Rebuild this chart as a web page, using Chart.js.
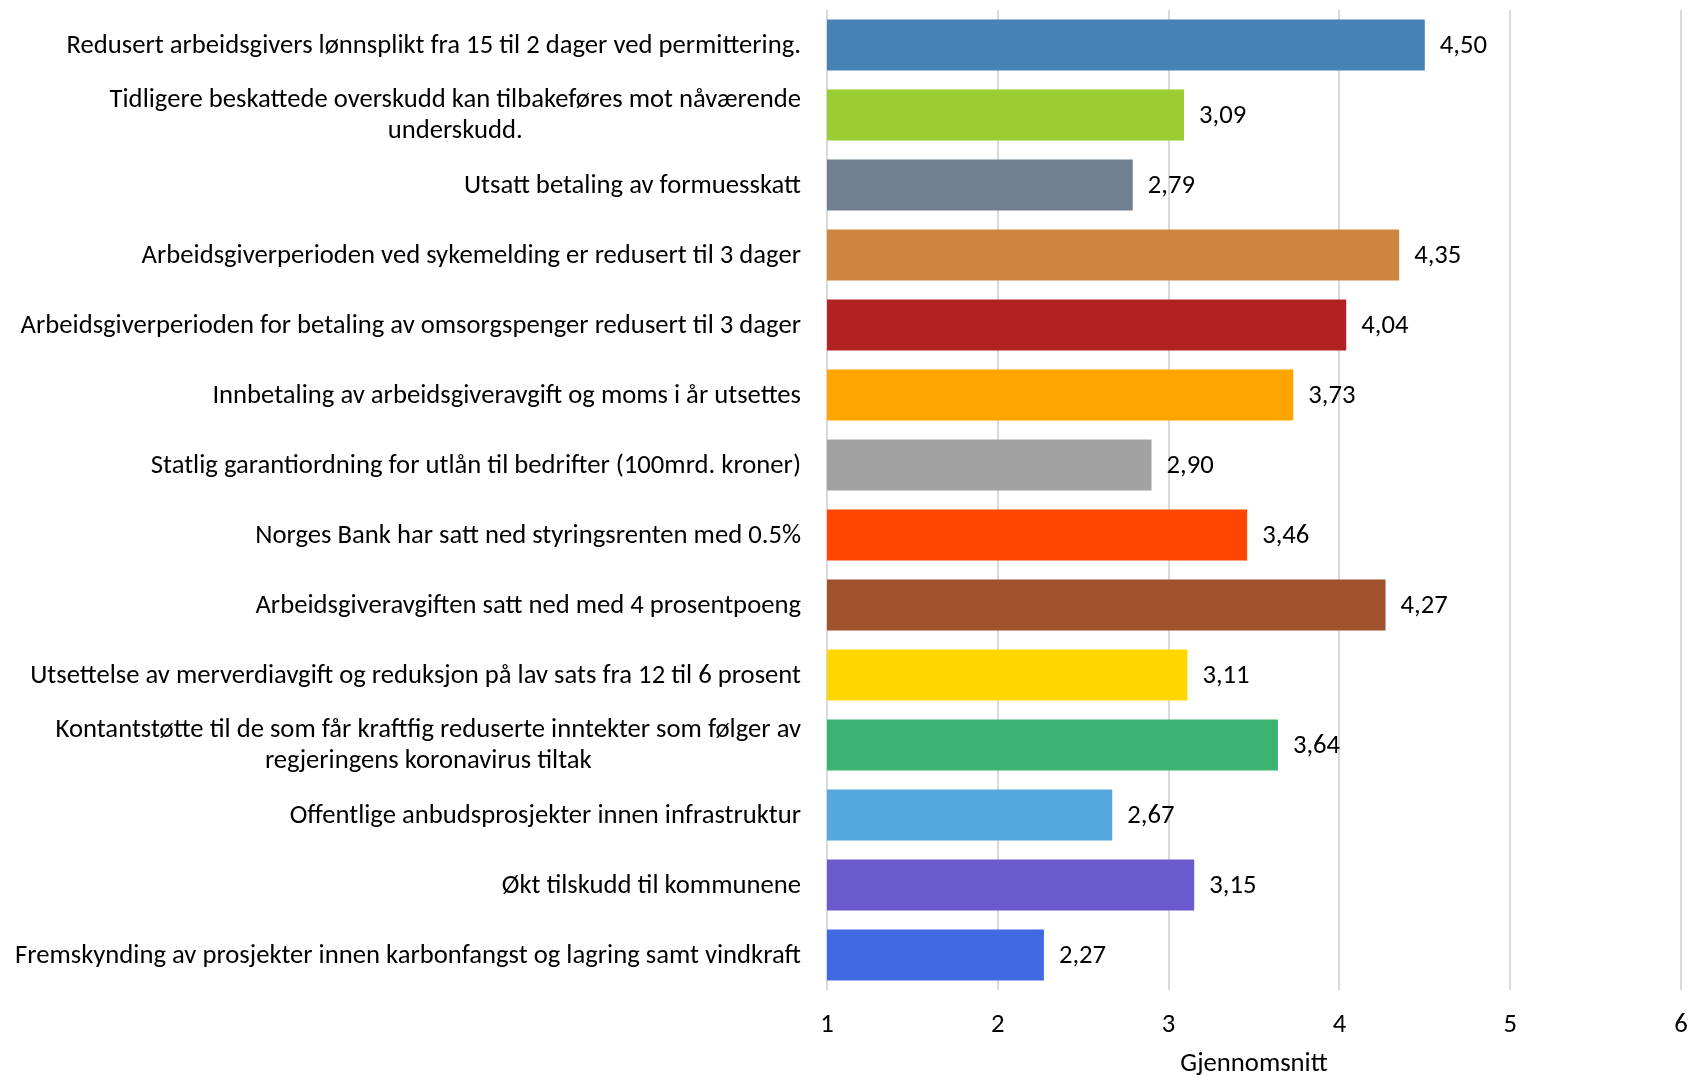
<!DOCTYPE html>
<html>
<head>
<meta charset="utf-8">
<script src="https://cdn.jsdelivr.net/npm/chart.js@4.4.1/dist/chart.umd.min.js"></script>
<style>
html,body{margin:0;padding:0;background:#fff;}
</style>
</head>
<body>
<canvas id="c" width="1690" height="1078"></canvas>
<script>
const categories = [
  "Redusert arbeidsgivers lønnsplikt fra 15 til 2 dager ved permittering.",
  ["Tidligere beskattede overskudd kan tilbakeføres mot nåværende", "underskudd."],
  "Utsatt betaling av formuesskatt",
  "Arbeidsgiverperioden ved sykemelding er redusert til 3 dager",
  "Arbeidsgiverperioden for betaling av omsorgspenger redusert til 3 dager",
  "Innbetaling av arbeidsgiveravgift og moms i år utsettes",
  "Statlig garantiordning for utlån til bedrifter (100mrd. kroner)",
  "Norges Bank har satt ned styringsrenten med 0.5%",
  "Arbeidsgiveravgiften satt ned med 4 prosentpoeng",
  "Utsettelse av merverdiavgift og reduksjon på lav sats fra 12 til 6 prosent",
  ["Kontantstøtte til de som får kraftfig reduserte inntekter som følger av", "regjeringens koronavirus tiltak"],
  "Offentlige anbudsprosjekter innen infrastruktur",
  "Økt tilskudd til kommunene",
  "Fremskynding av prosjekter innen karbonfangst og lagring samt vindkraft"
];
const values = [4.50, 3.09, 2.79, 4.35, 4.04, 3.73, 2.90, 3.46, 4.27, 3.11, 3.64, 2.67, 3.15, 2.27];
const barColors = ["#4682B4","#9ACD32","#708090","#CD853F","#B22222","#FFA500","#A2A2A2","#FF4500","#A0522D","#FFD700","#3CB371","#55A8DD","#6A5ACD","#4169E1"];
const xTicks = [1,2,3,4,5,6];
const axisTitle = "Gjennomsnitt";

const FONT = "Carlito, 'Open Sans', sans-serif";
const LABEL_SIZE = 26.67;
const LINE_H = 31;

// Category labels: right-aligned block, lines centred within the block (like the original)
const categoryLabels = {
  id: 'categoryLabels',
  afterDraw(chart) {
    const ctx = chart.ctx;
    const ys = chart.scales.y;
    const right = chart.chartArea.left - 26;
    ctx.save();
    ctx.font = LABEL_SIZE + "px " + FONT;
    ctx.fillStyle = "#000";
    ctx.textAlign = "center";
    ctx.textBaseline = "middle";
    categories.forEach((lab, i) => {
      const lines = Array.isArray(lab) ? lab : [lab];
      const w = Math.max(...lines.map(l => ctx.measureText(l).width));
      const cx = right - w / 2;
      const cy = ys.getPixelForTick(i);
      const y0 = cy - (lines.length - 1) * LINE_H / 2 + 1;
      lines.forEach((l, k) => ctx.fillText(l, cx, y0 + k * LINE_H));
    });
    ctx.restore();
  }
};

const valueLabels = {
  id: 'valueLabels',
  afterDatasetsDraw(chart) {
    const ctx = chart.ctx;
    const meta = chart.getDatasetMeta(0);
    ctx.save();
    ctx.font = LABEL_SIZE + "px " + FONT;
    ctx.fillStyle = "#000";
    ctx.textAlign = "left";
    ctx.textBaseline = "middle";
    meta.data.forEach((bar, i) => {
      ctx.fillText(values[i].toFixed(2).replace('.', ','), bar.x + 15, bar.y + 1);
    });
    ctx.restore();
  }
};

new Chart(document.getElementById('c'), {
  type: 'bar',
  data: {
    labels: categories,
    datasets: [{ data: values, backgroundColor: barColors, borderWidth: 0, categoryPercentage: 1, barPercentage: 0.73 }]
  },
  options: {
    indexAxis: 'y',
    responsive: false,
    animation: false,
    layout: { padding: { top: 10, right: 9, left: 0, bottom: 0 } },
    plugins: { legend: { display: false }, tooltip: { enabled: false } },
    scales: {
      x: {
        min: 1, max: 6,
        afterBuildTicks(s) { s.ticks = xTicks.map(v => ({ value: v })); },
        grid: { color: '#d9d9d9', lineWidth: 2, drawTicks: false },
        border: { display: false },
        ticks: { font: { family: FONT, size: 26.67, lineHeight: 1.2 }, color: '#000', padding: 19, maxRotation: 0 },
        title: { display: true, text: axisTitle, font: { family: FONT, size: 26.67, lineHeight: 1 }, color: '#000', padding: { top: 10, bottom: 0 } },
        afterFit(s) { s.height = 88; s.paddingLeft = 0; s.paddingRight = 0; }
      },
      y: {
        grid: { display: false, drawTicks: false },
        border: { display: false },
        ticks: { display: false },
        afterFit(s) { s.width = 827; s.paddingTop = 0; s.paddingBottom = 0; }
      }
    }
  },
  plugins: [valueLabels, categoryLabels]
});
</script>
</body>
</html>
